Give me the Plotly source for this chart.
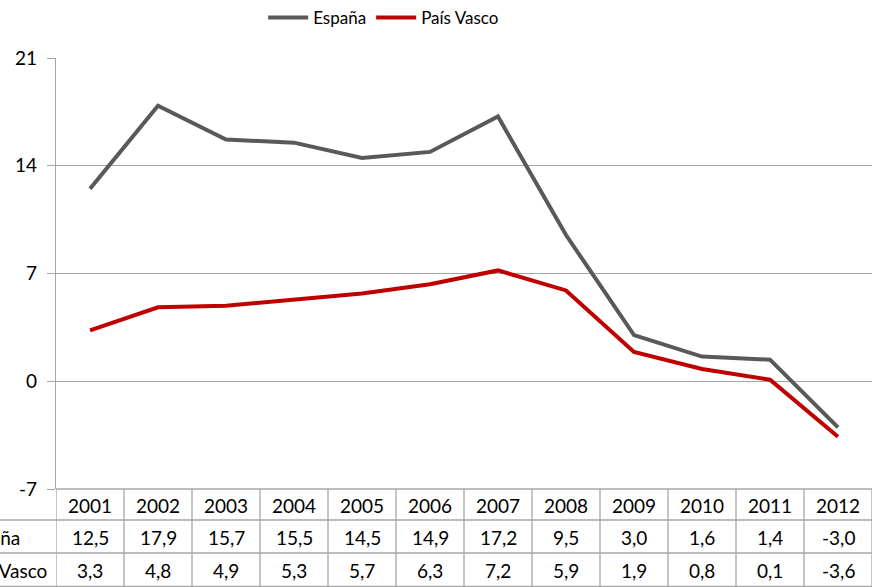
import plotly.graph_objects as go

years = ["2001", "2002", "2003", "2004", "2005", "2006", "2007", "2008", "2009", "2010", "2011", "2012"]
espana = [12.5, 17.9, 15.7, 15.5, 14.5, 14.9, 17.2, 9.5, 3.0, 1.6, 1.4, -3.0]
pais_vasco = [3.3, 4.8, 4.9, 5.3, 5.7, 6.3, 7.2, 5.9, 1.9, 0.8, 0.1, -3.6]
series_names = ["España", "País Vasco"]
series_colors = ["#595959", "#C00000"]
y_ticks = [-7, 0, 7, 14, 21]

W, H = 872, 587
L, R, T, B = 56, 0, 58, 98
pw = W - L - R
ph = H - T - B
FONT = "Lato"
GRID = "#A6A6A6"
FS = 19

x_idx = list(range(len(years)))

fig = go.Figure()
for name, vals, col in zip(series_names, [espana, pais_vasco], series_colors):
    fig.add_trace(go.Scatter(x=x_idx, y=vals, mode="lines", name=name,
                             line=dict(color=col, width=4), cliponaxis=False))

def py(pix):
    return (H - B - pix) / ph

def px(pix):
    return (pix - L) / pw

shapes = []
row_lines = [489, 520, 553, 586.5]
for i, yy in enumerate(row_lines):
    shapes.append(dict(type="line", xref="paper", yref="paper",
                       x0=px(56) if i == 0 else px(0), x1=1, y0=py(yy), y1=py(yy),
                       line=dict(color=GRID, width=1.3)))
for k in range(len(years) + 1):
    shapes.append(dict(type="line", xref="x", yref="paper",
                       x0=k - 0.5, x1=k - 0.5, y0=py(489), y1=py(587),
                       line=dict(color=GRID, width=1.3)))

def fmt(v):
    return f"{v:.1f}".replace(".", ",")

annotations = []
row_centers = [505, 537, 570]
for i, yr in enumerate(years):
    for txt, rc in zip([yr, fmt(espana[i]), fmt(pais_vasco[i])], row_centers):
        annotations.append(dict(x=i, y=py(rc), xref="x", yref="paper",
                                text=txt, showarrow=False, xanchor="center", yanchor="middle",
                                font=dict(family=FONT, size=FS, color="#000")))
for name, rc in zip(series_names, row_centers[1:]):
    annotations.append(dict(x=px(-41), y=py(rc), xref="paper", yref="paper",
                            text=name, showarrow=False, xanchor="left", yanchor="middle",
                            font=dict(family=FONT, size=FS, color="#000")))

fig.update_layout(
    width=W, height=H,
    margin=dict(l=L, r=R, t=T, b=B),
    paper_bgcolor="white", plot_bgcolor="white",
    font=dict(family=FONT, size=FS, color="#000"),
    showlegend=True,
    legend=dict(orientation="h", x=0.44, xref="container", xanchor="center",
                y=1, yref="container", yanchor="top",
                font=dict(family=FONT, size=17, color="#000"),
                itemwidth=40, tracegroupgap=0),
    xaxis=dict(range=[-0.5, len(years) - 0.5], showgrid=False, zeroline=False,
               showticklabels=False, showline=False, ticks="", fixedrange=True),
    yaxis=dict(range=[y_ticks[0], y_ticks[-1]], tickvals=y_ticks, ticktext=[str(t) for t in y_ticks],
               showgrid=True, gridcolor=GRID, gridwidth=1.3, zeroline=False,
               showline=True, linecolor=GRID, linewidth=1.3,
               ticks="outside", ticklen=8, tickcolor=GRID, tickwidth=1.3,
               ticklabelstandoff=6, tickfont=dict(family=FONT, size=FS, color="#000")),
    shapes=shapes,
    annotations=annotations,
)

fig.write_html("out.html", config={"displayModeBar": False},
               post_script="document.body.style.margin='0';document.body.style.overflow='hidden';")
